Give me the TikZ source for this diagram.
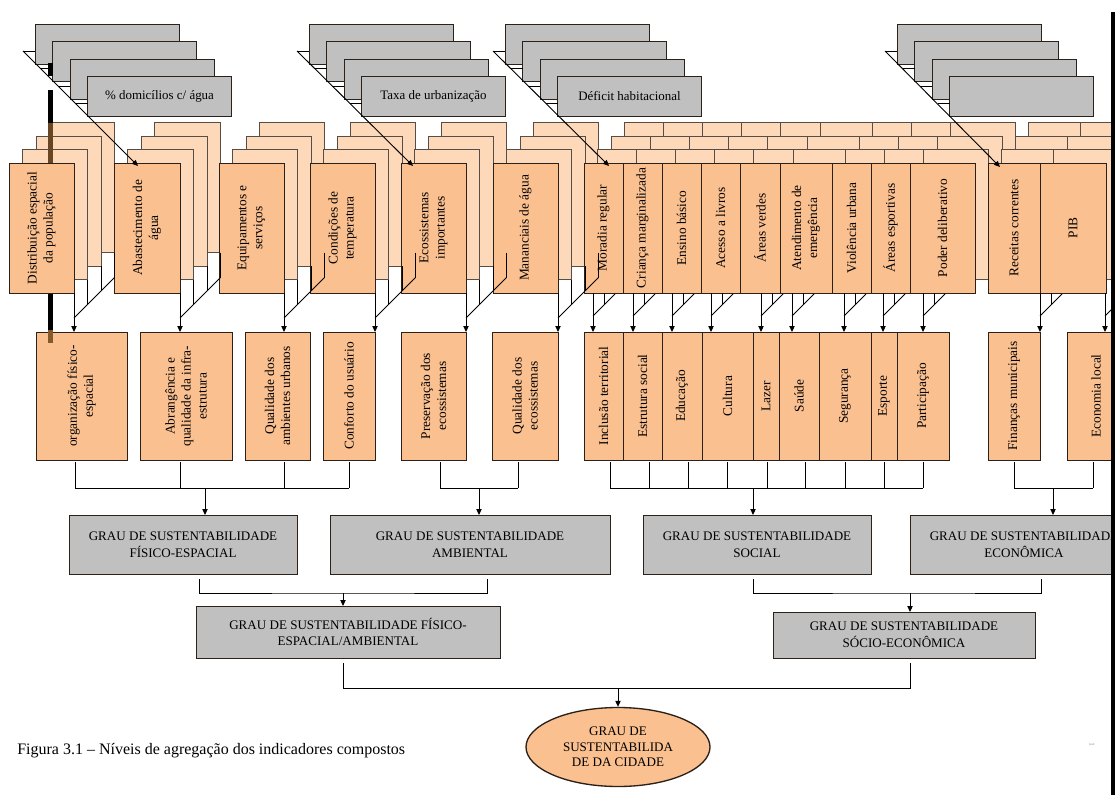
\documentclass[tikz,border=0pt]{standalone}
\usepackage{fontspec}
\setmainfont{Liberation Serif}
\usetikzlibrary{arrows.meta,calc,shapes.geometric}

\definecolor{peach}{HTML}{FAC090}
\definecolor{peachlight}{HTML}{FDD9BA}
\definecolor{silver}{HTML}{C0C0C0}
\definecolor{edge}{HTML}{2B2118}

% texto vertical dentro das caixas
\newcommand{\vtext}[1]{\rotatebox{90}{\parbox{93pt}{\centering\fontsize{10}{12}\selectfont #1}}}

\tikzset{
  dims/.style 2 args={minimum width=(#1)*0.75pt, minimum height=(#2)*0.75pt},
  front/.style={draw=edge, fill=peach, line width=0.7pt, inner sep=0pt, outer sep=0pt, anchor=north west},
  back/.style={draw=edge!80, fill=peachlight, line width=0.6pt},
  graybox/.style={draw=edge, fill=silver, line width=0.7pt},
  grau/.style={draw=edge, fill=silver, line width=0.7pt, inner sep=0pt, outer sep=0pt,
    anchor=north west, align=center, font=\fontsize{9.8}{12.6}\selectfont},
  link/.style={draw=black, line width=0.7pt},
  arr/.style={link, -{Triangle[length=4.5pt,width=4pt]}},
}

\begin{document}
\begin{tikzpicture}[x=0.75pt, y=-0.75pt]
  \useasboundingbox (0,0) rectangle (1117,795);
  \fill[white] (0,0) rectangle (1117,795);
  \clip (0,0) rectangle (1117,795);

  % indicadores simples (pilhas cinzentas)
  \foreach \gx/\gn/\gtx in {35/g1/{\% domicílios c/ água}, 309/g2/{Taxa de urbanização},
                            505/g3/{Déficit habitacional}, 897/g4/{}}{
    \foreach \k in {0,1,2}
      \draw[graybox] (\gx+17.5*\k, 24+17.5*\k) rectangle ++(144,40);
    \node[grau, dims={144}{40}, font=\fontsize{9.7}{11}\selectfont] (\gn) at (\gx+52.5,76.5) {\gtx};
    \foreach \k in {0,...,3}
      \draw[link] (\gx-12+17.5*\k, 51+17.5*\k) -- ++(12,0);
    \coordinate (s\gn) at (\gx-12,51);
  }

  % indicadores compostos (camadas de tras, depois a da frente)
  \def\fronts{i1/9/74/{Distribuição espacial\\da população}, i2/114/180/{Abastecimento de\\água},
    i3/219/284/{Equipamentos e\\serviços}, i4/310/375/{Condições de\\temperatura},
    i5/401/466/{Ecossistemas\\importantes}, i6/493/558/{Mananciais de água},
    i7/584/623/{Moradia regular}, i8/623/662/{Criança marginalizada},
    i9/662/701/{Ensino básico}, i10/701/740/{Acesso a livros},
    i11/740/780/{Áreas verdes}, i12/780/832/{Atendimento de\\emergência},
    i13/832/871/{Violência urbana}, i14/871/910/{Áreas esportivas},
    i15/910/975/{Poder deliberativo}, i16/988/1040/{Receitas correntes},
    i17/1040/1106/{PIB}}
  \foreach \k in {3,2,1}
    \foreach \n/\xa/\xb/\tx in \fronts
      \draw[back] (\xa+13.5*\k, 163-13.5*\k) rectangle ++(\xb-\xa,130);

  % barra preta da esquerda (margem da digitalizacao), atras das caixas
  \draw[line width=3.75pt] (50,63) -- (50,76);
  \draw[line width=3.75pt] (50,90) -- (50,123);
  \draw[line width=3.75pt, brown!55!black] (50,123) -- (50,163);
  \draw[line width=3.75pt] (50,163) -- (50,330);

  \foreach \n/\xa/\xb/\tx in \fronts
    \node[front, dims={\xb-\xa}{130}] (\n) at (\xa,163) {\vtext{\tx}};

  % subindices
  \foreach \n/\xa/\xb/\tx in {s1/36/127/{organização físico-\\espacial},
    s2/140/232/{Abrangência e\\qualidade da infra-\\estrutura},
    s3/245/310/{Qualidade dos\\ambientes urbanos}, s4/323/375/{Conforto do usuário},
    s5/401/466/{Preservação dos\\ecossistemas}, s6/492/558/{Qualidade dos\\ecossistemas},
    s7/584/623/{Inclusão territorial}, s8/623/662/{Estrutura social},
    s9/662/702/{Educação}, s10/702/753/{Cultura}, s11/753/779/{Lazer},
    s12/779/819/{Saúde}, s13/819/871/{Segurança}, s14/871/897/{Esporte},
    s15/897/949/{Participação}, s16/988/1040/{Finanças municipais},
    s17/1067/1125/{Economia local}}
    \node[front, dims={\xb-\xa}{128}] (\n) at (\xa,332) {\vtext{\tx}};
  \draw[line width=3.75pt, brown!70!black] (50,330) -- (50,343);

  % leques: camadas -> subindices
  \foreach \n in {1,...,6}{
    \draw[arr] (i\n.south east) -- (i\n.south east |- s\n.north);
    \draw[link] ($(i\n.south east)+(0,25)$) -- ++(40.5,-40.5);
    \foreach \k in {1,2,3}
      \draw[link] ($(i\n.south east)+(13.5*\k,-13.5*\k)$) -- ++(0,25);
  }
  \foreach \n/\dx in {7/9,8/10,9/10,10/10,11/21,12/12,13/12,14/12,15/13,16/52,17/65}{
    \coordinate (a\n) at ($(i\n.south west)+(\dx,0)$);
    \draw[arr] (a\n) -- (a\n |- s\n.north);
    \draw[link] ($(a\n)+(0,23)$) -- ++(22,-22);
    \draw[link] ($(a\n)+(11,0)$) -- ++(0,11);
  }

  % setas dos indicadores simples
  \draw[arr] (sg1) -- ($(i2.north west)+(24,3)$);
  \draw[arr] (sg2) -- ($(i5.north west)+(12,3)$);
  \draw[arr] (sg3) -- ($(i7.north west)+(25,3)$);
  \draw[arr] (sg4) -- ($(i16.north west)+(12,4)$);

  % graus de sustentabilidade
  \node[grau, dims={228}{59}] (G1) at (69,515) {GRAU DE SUSTENTABILIDADE\\FÍSICO-ESPACIAL};
  \node[grau, dims={280}{59}] (G2) at (330,515) {GRAU DE SUSTENTABILIDADE\\AMBIENTAL};
  \node[grau, dims={228}{59}] (G3) at (643,515) {GRAU DE SUSTENTABILIDADE\\SOCIAL};
  \node[grau, dims={228}{59}] (G4) at (910,515) {GRAU DE SUSTENTABILIDADE\\ECONÔMICA};

  \foreach \n/\dx in {1/39,2/40,3/39,4/26,5/39,6/26,7/26,8/26,9/26,10/25,11/14,
                      12/26,13/26,14/13,15/26,16/26,17/26}
    \coordinate (c\n) at ($(s\n.south west)+(\dx,2)$);
  \coordinate (j1) at ($(G1.north west)+(136,-27)$);
  \coordinate (j2) at ($(G2.north west)+(149,-27)$);
  \coordinate (j3) at ($(G3.north west)+(110,-27)$);
  \coordinate (j4) at ($(G4.north west)+(143,-27)$);

  \foreach \n in {1,...,4} \draw[link] (c\n) -- (c\n |- j1);
  \draw[link] (c1 |- j1) -- (c4 |- j1);
  \draw[arr] (j1) -- (j1 |- G1.north);
  \foreach \n in {5,6} \draw[link] (c\n) -- (c\n |- j2);
  \draw[link] (c5 |- j2) -- (c6 |- j2);
  \draw[arr] (j2) -- (j2 |- G2.north);
  \foreach \n in {7,...,15} \draw[link] (c\n) -- (c\n |- j3);
  \draw[link] (c7 |- j3) -- (c15 |- j3);
  \draw[arr] (j3) -- (j3 |- G3.north);
  \foreach \n in {16,17} \draw[link] (c\n) -- (c\n |- j4);
  \draw[link] (c16 |- j4) -- (c17 |- j4);
  \draw[arr] (j4) -- (j4 |- G4.north);

  % segundo nivel
  \node[grau, dims={304}{52}] (H1) at (196,606) {GRAU DE SUSTENTABILIDADE FÍSICO-\\ESPACIAL/AMBIENTAL};
  \node[grau, dims={262}{46}] (H2) at (773,612) {GRAU DE SUSTENTABILIDADE\\SÓCIO-ECONÔMICA};
  \coordinate (k1) at ($(H1.north west)+(147,-13)$);
  \coordinate (k2) at ($(H2.north west)+(137,-19)$);
  \draw[link] ($(G1.south west)+(130,5)$) |- (k1) -| ($(G2.south west)+(157,5)$);
  \draw[arr] (k1) -- (k1 |- H1.north);
  \draw[link] ($(G3.south west)+(110,5)$) |- (k2) -| ($(G4.south west)+(131,5)$);
  \draw[arr] (k2) -- (k2 |- H2.north);

  % grau da cidade
  \node[ellipse, draw=edge, fill=peach, line width=1pt, inner sep=0pt, dims={184}{79},
        align=center, font=\fontsize{9.8}{11.6}\selectfont] (E) at (618,747)
        {GRAU DE\\SUSTENTABILIDA\\DE DA CIDADE};
  \coordinate (m) at ($(E.north)+(0,-18)$);
  \draw[link] ($(k1 |- H1.south)+(0,5)$) |- (m) -| ($(k2 |- H2.south)+(0,5)$);
  \draw[arr] (m) -- (E.north);

  % legenda
  \node[anchor=west, inner sep=0pt, font=\fontsize{12}{14}\selectfont] (cap) at (17,751)
       {Figura 3.1 – Níveis de agregação dos indicadores compostos};
  \node[rotate=-90, inner sep=0pt, text=black!35, font=\fontsize{6}{7}\selectfont] (pg) at (1092,744) {1};

  % barra preta da direita e margem branca
  \fill[white] (1115,0) rectangle (1117,795);
  \draw[line width=3pt] (1113,12) -- (1113,795);
\end{tikzpicture}
\end{document}
